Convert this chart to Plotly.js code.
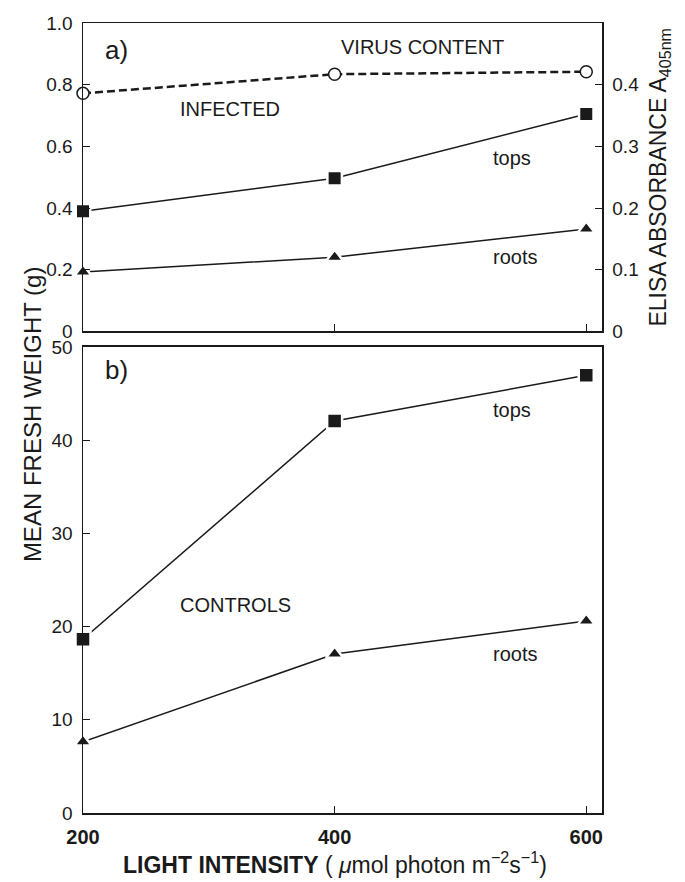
<!DOCTYPE html>
<html>
<head>
<meta charset="utf-8">
<script src="https://cdn.plot.ly/plotly-3.0.1.min.js"></script>
<style>html,body{margin:0;padding:0;background:#fff;}</style>
</head>
<body>
<div id="chart" style="width:685px;height:882px;"></div>
<script>
// Light intensity (µmol photon m-2 s-1)
const light = [200, 400, 600];

// Panel a) infected plants – mean fresh weight (g)
const infectedTops  = [0.39, 0.497, 0.705];
const infectedRoots = [0.193, 0.241, 0.332];
// Panel a) virus content – ELISA absorbance A405nm
const virusContent  = [0.386, 0.417, 0.421];

// Panel b) control plants – mean fresh weight (g)
const controlTops  = [18.65, 42.05, 46.95];
const controlRoots = [7.65, 17.05, 20.6];

const FONT = '"Liberation Sans", Arial, Helvetica, sans-serif';
const black = '#1a1a1a';

const lineStyle = {color: black, width: 1.5};
const filledMarker = (sym, size) => ({symbol: sym, size: size, color: black, line: {color: '#fff', width: 2.5}});

const traces = [
  {x: light, y: virusContent, xaxis: 'x2', yaxis: 'y3', mode: 'lines+markers',
   line: {color: black, width: 2.5, dash: '8px,4px'},
   marker: {symbol: 'circle', size: 12, color: '#fff', line: {width: 1.5, color: black}},
   cliponaxis: false},
  {x: light, y: infectedTops, xaxis: 'x2', yaxis: 'y2', mode: 'lines+markers',
   line: lineStyle, marker: filledMarker('square', 14.5), cliponaxis: false},
  {x: light, y: infectedRoots, xaxis: 'x2', yaxis: 'y2', mode: 'lines+markers',
   line: lineStyle, marker: filledMarker('triangle-up', 15), cliponaxis: false},
  {x: light, y: controlTops, xaxis: 'x', yaxis: 'y', mode: 'lines+markers',
   line: lineStyle, marker: filledMarker('square', 15), cliponaxis: false},
  {x: light, y: controlRoots, xaxis: 'x', yaxis: 'y', mode: 'lines+markers',
   line: lineStyle, marker: filledMarker('triangle-up', 15), cliponaxis: false}
];

const axCommon = {
  showline: true, linecolor: black, linewidth: 1.5, mirror: true,
  ticks: 'inside', ticklen: 7, tickwidth: 1.2, tickcolor: black,
  showgrid: false, zeroline: false,
  tickfont: {family: FONT, size: 19, color: black},
  ticklabelstandoff: 5
};

const annFont = {family: FONT, size: 20, color: black};

const layout = {
  width: 685, height: 882,
  margin: {l: 83, r: 83, t: 23, b: 69},
  paper_bgcolor: '#fff', plot_bgcolor: '#fff',
  showlegend: false,
  xaxis: Object.assign({}, axCommon, {
    range: [200, 612.5], tickvals: light, ticktext: ['200', '400', '600'],
    anchor: 'y', ticklabelstandoff: 5,
    tickfont: {family: FONT, size: 20, color: black, weight: 'bold'}
  }),
  xaxis2: Object.assign({}, axCommon, {
    range: [200, 612.5], tickvals: light, showticklabels: false, anchor: 'y2'
  }),
  yaxis: Object.assign({}, axCommon, {
    domain: [0, 0.590], range: [0, 50], tickvals: [0, 10, 20, 30, 40, 50], anchor: 'x'
  }),
  yaxis2: Object.assign({}, axCommon, {
    domain: [0.6095, 1], range: [0, 1],
    tickvals: [0, 0.2, 0.4, 0.6, 0.8, 1.0], ticktext: ['0', '0.2', '0.4', '0.6', '0.8', '1.0'],
    anchor: 'x2'
  }),
  yaxis3: Object.assign({}, axCommon, {
    overlaying: 'y2', side: 'right', range: [0, 0.5], anchor: 'x2',
    tickvals: [0, 0.1, 0.2, 0.3, 0.4], ticktext: ['0', '0.1', '0.2', '0.3', '0.4'],
    mirror: false, ticklabelstandoff: 5,
    title: {text: 'ELISA ABSORBANCE A<sub>405nm</sub>', standoff: 12,
            font: {family: FONT, size: 23, color: black}}
  }),
  annotations: [
    {text: 'a)', xref: 'x2', yref: 'y2', x: 227, y: 0.912, showarrow: false,
     font: {family: FONT, size: 26, color: black}},
    {text: 'VIRUS CONTENT', xref: 'x2', yref: 'y2', x: 470, y: 0.921, showarrow: false, font: annFont},
    {text: 'INFECTED', xref: 'x2', yref: 'y2', x: 317, y: 0.721, showarrow: false, font: annFont},
    {text: 'tops', xref: 'x2', yref: 'y2', x: 541, y: 0.562, showarrow: false, font: annFont},
    {text: 'roots', xref: 'x2', yref: 'y2', x: 543, y: 0.241, showarrow: false, font: annFont},
    {text: 'b)', xref: 'x', yref: 'y', x: 227, y: 47.5, showarrow: false,
     font: {family: FONT, size: 26, color: black}},
    {text: 'tops', xref: 'x', yref: 'y', x: 541, y: 43.2, showarrow: false, font: annFont},
    {text: 'CONTROLS', xref: 'x', yref: 'y', x: 321, y: 22.3, showarrow: false, font: annFont},
    {text: 'roots', xref: 'x', yref: 'y', x: 543, y: 17.1, showarrow: false, font: annFont},
    {text: 'MEAN FRESH WEIGHT (g)', xref: 'paper', yref: 'paper', x: -0.128, y: 0.505,
     textangle: -90, showarrow: false, font: {family: FONT, size: 24, color: black}},
    {text: '<b>LIGHT INTENSITY</b> ( <i>μ</i>mol photon m<sup>−2</sup>s<sup>−1</sup>)',
     xref: 'paper', yref: 'paper', x: 0.485, y: -0.063, yanchor: 'middle', showarrow: false,
     font: {family: FONT, size: 23, color: black}}
  ]
};

Plotly.newPlot('chart', traces, layout, {displayModeBar: false, staticPlot: true});
</script>
</body>
</html>
